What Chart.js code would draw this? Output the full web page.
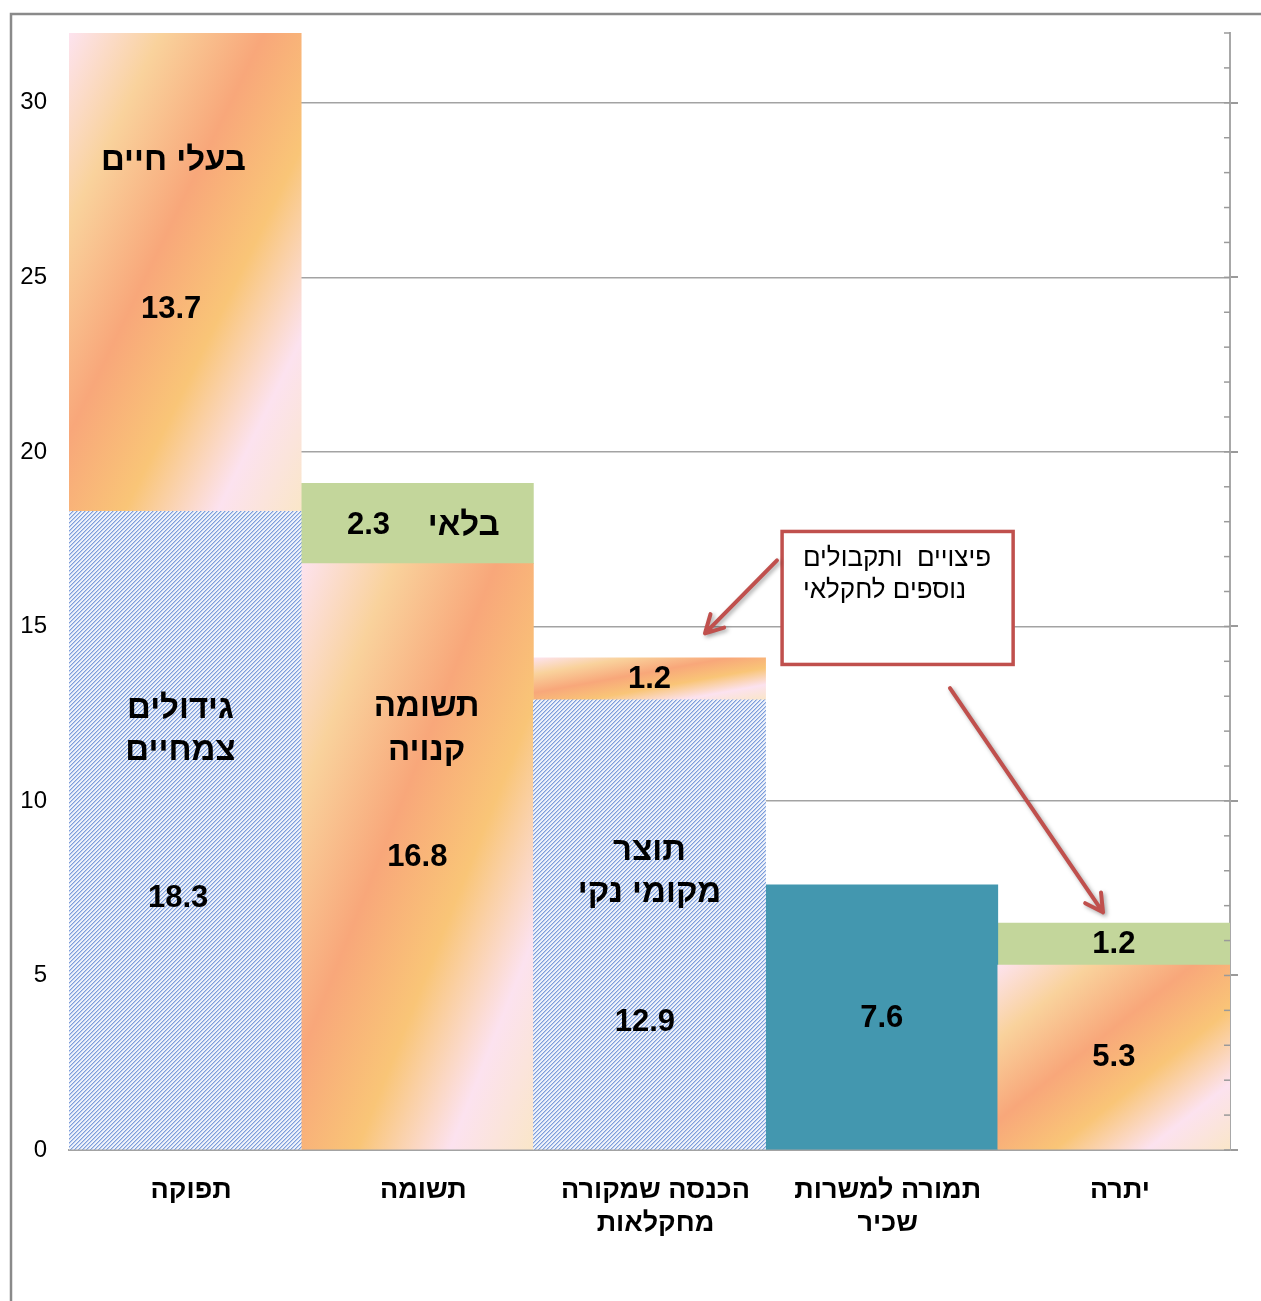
<!DOCTYPE html>
<html lang="he">
<head>
<meta charset="utf-8">
<script src="https://cdn.jsdelivr.net/npm/chart.js@4/dist/chart.umd.min.js"></script>
<style>
  html, body { margin: 0; padding: 0; background: #fff; }
  #wrap { width: 1261px; height: 1301px; position: relative; }
</style>
</head>
<body>
<div id="wrap"><canvas id="c"></canvas></div>
<script>
// ---- data ----
const categories = ['תפוקה', 'תשומה', ['הכנסה שמקורה', 'מחקלאות'], ['תמורה למשרות', 'שכיר'], 'יתרה'];
const hatchedValues   = [18.3, null, 12.9, null, null];   // גידולים צמחיים / תוצר מקומי נקי
const gradientLower   = [null, 16.8, null, null, 5.3];    // תשומה קנויה / יתרה
const tealValues      = [null, null, null, 7.6, null];    // תמורה למשרות שכיר
const gradientUpper   = [13.7, null, 1.2, null, null];    // בעלי חיים / פיצויים
const greenValues     = [null, 2.3, null, null, 1.2];     // בלאי / פיצויים
const yTicks = [0, 5, 10, 15, 20, 25, 30];
const yMax = 32;

// in-bar text labels: [text, category position, y value]
const barTexts = [
  ['בעלי חיים', -0.05, 28.34],
  ['13.7', -0.06, 24.08],
  ['גידולים', -0.02, 12.63],
  ['צמחיים', -0.02, 11.42],
  ['18.3', -0.03, 7.21],
  ['2.3', 0.79, 17.89],
  ['בלאי', 1.20, 17.89],
  ['תשומה', 1.04, 12.68],
  ['קנויה', 1.04, 11.42],
  ['16.8', 1.0, 8.39],
  ['1.2', 2.0, 13.48],
  ['תוצר', 2.0, 8.56],
  ['מקומי נקי', 2.0, 7.36],
  ['12.9', 1.98, 3.64],
  ['7.6', 3.0, 3.78],
  ['1.2', 4.0, 5.90],
  ['5.3', 4.0, 2.66]
];
const noteLines = ['פיצויים  ותקבולים', 'נוספים לחקלאי'];

// ---- styles ----
const FONT = '"Liberation Sans", Arial, "DejaVu Sans", sans-serif';
const RED = '#C0504D';
const GRID = '#A3A3A3';

const pc = document.createElement('canvas');
pc.width = 4; pc.height = 4;
const p = pc.getContext('2d');
p.fillStyle = '#eef2fa'; p.fillRect(0, 0, 4, 4);
for (let i = 0; i < 4; i++) {
  p.fillStyle = '#7d9dda'; p.fillRect(i, 3 - i, 1, 1);
  p.fillStyle = '#bccdee'; p.fillRect(i, (4 - i) % 4, 1, 1);
}
const hatch = p.createPattern(pc, 'repeat');

function gradFill(ctx) {
  const chart = ctx.chart;
  const xs = chart.scales.x, ys = chart.scales.y;
  if (!xs || !ys || ctx.type !== 'data') return '#F8A87A';
  const i = ctx.dataIndex, di = ctx.datasetIndex;
  const v = chart.data.datasets[di].data[i];
  if (v == null) return 'rgba(0,0,0,0)';
  let base = 0;
  for (let k = 0; k < di; k++) { const d = chart.data.datasets[k].data[i]; if (d != null) base += d; }
  const w = xs.width / categories.length;
  const L = xs.getPixelForValue(i) - w / 2;
  const T = ys.getPixelForValue(base + v), B = ys.getPixelForValue(base);
  const h = Math.max(1, B - T);
  if (![w, L, T, B, h].every(Number.isFinite) || w <= 0) return '#F8A87A';
  const f = 2 * w * h / (w * w + h * h);
  const g = chart.ctx.createLinearGradient(L, T, L + h * f, T + w * f);
  g.addColorStop(0.0, '#FDE3EF');
  g.addColorStop(0.2, '#F9D29C');
  g.addColorStop(0.42, '#F8A77A');
  g.addColorStop(0.62, '#F9C577');
  g.addColorStop(0.82, '#FCE2EF');
  g.addColorStop(1.0, '#FAE6C8');
  return g;
}

const frame = {
  id: 'frame',
  beforeDraw(chart) {
    const c = chart.ctx;
    c.save();
    c.fillStyle = '#fff';
    c.fillRect(0, 0, chart.width, chart.height);
    c.strokeStyle = '#8a8a8a'; c.lineWidth = 2.5;
    c.beginPath();
    c.moveTo(11, chart.height + 5); c.lineTo(11, 14); c.lineTo(chart.width + 5, 14);
    c.stroke();
    c.restore();
  },
  afterDraw(chart) {
    const c = chart.ctx, ys = chart.scales.y, a = chart.chartArea;
    c.save();
    c.strokeStyle = '#9a9a9a'; c.lineWidth = 1.5;
    for (let v = 0; v <= yMax; v++) {
      const py = ys.getPixelForValue(v);
      c.beginPath(); c.moveTo(a.right - 6, py); c.lineTo(a.right, py); c.stroke();
    }
    c.restore();
  }
};

function px(chart, cx, vy) {
  const xs = chart.scales.x, ys = chart.scales.y;
  const w = xs.width / categories.length;
  return [xs.getPixelForValue(0) + cx * w, ys.getPixelForValue(vy)];
}

const labelsPlugin = {
  id: 'barTexts',
  afterDatasetsDraw(chart) {
    const c = chart.ctx;
    c.save();
    c.fillStyle = '#000';
    c.textAlign = 'center'; c.textBaseline = 'middle';
    barTexts.forEach(([t, cx, vy]) => {
      const isNum = /^[0-9.]+$/.test(t);
      c.font = 'bold ' + (isNum ? 31 : 33) + 'px ' + FONT;
      const [x, y] = px(chart, cx, vy);
      c.fillText(t, x, y);
    });
    c.restore();
  }
};

function arrow(c, x1, y1, x2, y2) {
  const ang = Math.atan2(y2 - y1, x2 - x1);
  const L = 20, sp = 0.5;
  c.beginPath();
  c.moveTo(x1, y1); c.lineTo(x2, y2);
  c.moveTo(x2 - L * Math.cos(ang - sp), y2 - L * Math.sin(ang - sp));
  c.lineTo(x2, y2);
  c.lineTo(x2 - L * Math.cos(ang + sp), y2 - L * Math.sin(ang + sp));
  c.stroke();
}

const notePlugin = {
  id: 'note',
  afterDraw(chart) {
    const c = chart.ctx;
    const [bx1, by1] = px(chart, 2.571, 17.72);
    const [bx2, by2] = px(chart, 3.566, 13.91);
    c.save();
    c.fillStyle = '#fff';
    c.fillRect(bx1, by1, bx2 - bx1, by2 - by1);
    c.strokeStyle = RED; c.lineWidth = 3.5;
    c.strokeRect(bx1, by1, bx2 - bx1, by2 - by1);
    c.fillStyle = '#000';
    c.font = '26px ' + FONT;
    c.textAlign = 'left'; c.textBaseline = 'middle';
    const [tx, ty1] = px(chart, 2.661, 16.95);
    const [, ty2] = px(chart, 2.661, 16.03);
    c.fillText(noteLines[0], tx, ty1);
    c.fillText(noteLines[1], tx, ty2);
    c.shadowColor = 'rgba(0,0,0,0.35)'; c.shadowBlur = 4; c.shadowOffsetX = 2; c.shadowOffsetY = 2;
    c.strokeStyle = RED; c.lineWidth = 4; c.lineCap = 'round'; c.lineJoin = 'round';
    let a = px(chart, 2.549, 16.89), b = px(chart, 2.239, 14.80);
    arrow(c, a[0], a[1], b[0], b[1]);
    a = px(chart, 3.294, 13.23); b = px(chart, 3.953, 6.81);
    arrow(c, a[0], a[1], b[0], b[1]);
    c.restore();
  }
};

const keepTicks = (s) => { s.ticks = s.ticks.filter(t => yTicks.includes(t.value)); };

new Chart(document.getElementById('c'), {
  type: 'bar',
  data: {
    labels: categories,
    datasets: [
      { data: hatchedValues, backgroundColor: hatch },
      { data: gradientLower, backgroundColor: gradFill },
      { data: tealValues, backgroundColor: '#4397AF' },
      { data: gradientUpper, backgroundColor: gradFill },
      { data: greenValues, backgroundColor: '#C3D69B' }
    ]
  },
  options: {
    responsive: true,
    maintainAspectRatio: false,
    animation: false,
    layout: { padding: { top: 33, left: 0, right: 0, bottom: 0 } },
    datasets: { bar: { categoryPercentage: 1, barPercentage: 1, borderWidth: 0, skipNull: false } },
    plugins: { legend: { display: false }, tooltip: { enabled: false } },
    scales: {
      x: {
        stacked: true,
        grid: { display: false },
        border: { display: true, color: GRID, width: 2 },
        ticks: { color: '#000', font: { family: FONT, size: 27, weight: 'bold', lineHeight: 1.22 }, padding: 16, labelOffset: 6, maxRotation: 0, autoSkip: false },
        afterFit: (s) => { s.height = 151; s.paddingLeft = 0; s.paddingRight = 0; }
      },
      y: {
        stacked: true,
        min: 0, max: yMax,
        ticks: { stepSize: 5, color: '#000', font: { family: FONT, size: 24 }, padding: 22 },
        afterBuildTicks: keepTicks,
        grid: { color: GRID, lineWidth: 1.5, drawTicks: false },
        border: { display: false },
        afterFit: (s) => { s.width = 69; s.paddingTop = 0; s.paddingBottom = 0; }
      },
      y2: {
        position: 'right',
        min: 0, max: yMax,
        ticks: { stepSize: 5, display: false },
        afterBuildTicks: keepTicks,
        grid: { drawOnChartArea: false, color: '#9a9a9a', lineWidth: 2, tickLength: 8 },
        border: { display: true, color: '#a8a8a8', width: 2 },
        afterFit: (s) => { s.width = 31; s.paddingTop = 0; s.paddingBottom = 0; }
      }
    }
  },
  plugins: [frame, labelsPlugin, notePlugin]
});
</script>
</body>
</html>
